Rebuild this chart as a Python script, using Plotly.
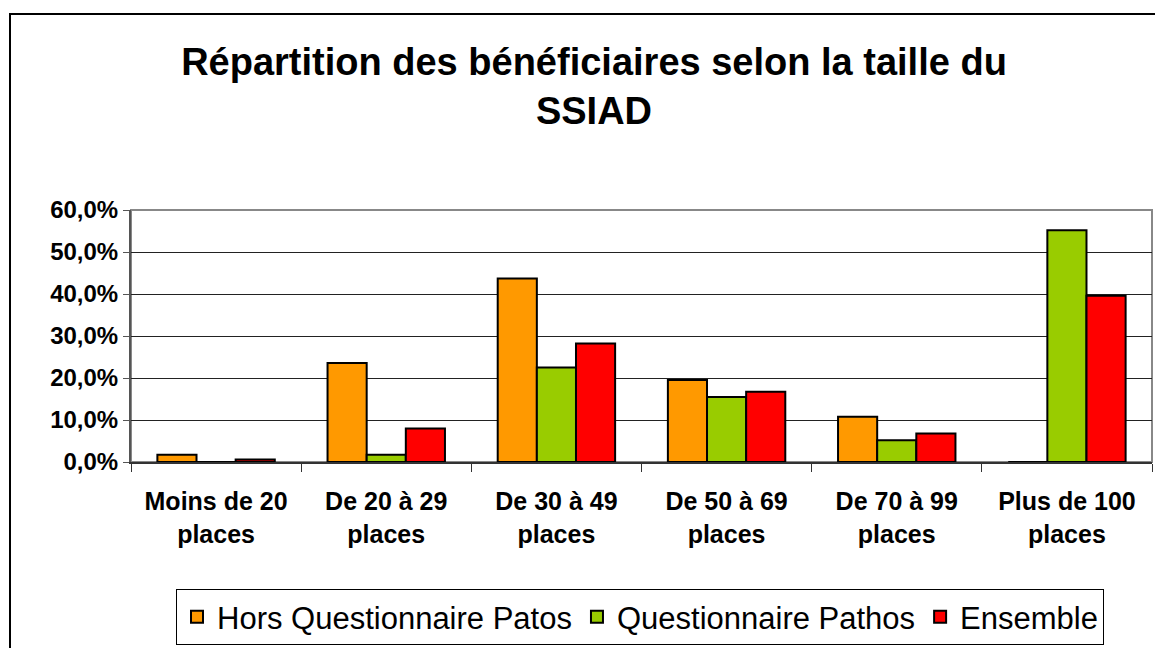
import plotly.graph_objects as go

categories = ["Moins de 20<br>places", "De 20 à 29<br>places", "De 30 à 49<br>places",
              "De 50 à 69<br>places", "De 70 à 99<br>places", "Plus de 100<br>places"]
hors_patos = [1.7, 23.6, 43.7, 19.5, 10.8, 0.0]
pathos = [0.0, 1.7, 22.5, 15.5, 5.2, 55.2]
ensemble = [0.6, 8.0, 28.2, 16.7, 6.8, 39.6]

series = [("Hors Questionnaire Patos", hors_patos, "#FF9900"),
          ("Questionnaire Pathos", pathos, "#99CC00"),
          ("Ensemble", ensemble, "#FF0000")]

fig = go.Figure()
for name, vals, col in series:
    fig.add_trace(go.Bar(x=categories, y=vals, name=name,
                         marker=dict(color=col, line=dict(color="black", width=2))))

# page body has an 8px margin, so work in screen pixels minus that
OFF = 8
W, H = 1163 - OFF, 648 - OFF
L, R, T, B = 131 - OFF, 11, 210 - OFF, 186
pw, ph = W - L - R, H - T - B

def px_x(p):
    return (p - OFF - L) / pw

def px_y(p):
    return (H - B - (p - OFF)) / ph

fig.update_layout(
    width=W, height=H,
    margin=dict(l=L, r=R, t=T, b=B, autoexpand=False),
    paper_bgcolor="white", plot_bgcolor="white",
    font=dict(family="Liberation Sans, Arial", color="black"),
    separators=",.",
    barmode="group", bargap=0.31, bargroupgap=0,
    title=dict(text="<b>Répartition des bénéficiaires selon la taille du<br>SSIAD</b>",
               x=px_x(594), xref="paper", xanchor="center",
               y=1 - (75 - OFF) / H, yanchor="middle",
               font=dict(size=38, color="black")),
    legend=dict(orientation="h", x=px_x(640), xanchor="center", y=px_y(645), yanchor="bottom",
                bordercolor="black", borderwidth=1, font=dict(size=31),
                itemwidth=30, traceorder="normal"),
    showlegend=True,
)
fig.update_yaxes(range=[0, 60], dtick=10, tickformat=".1f",
                 tickprefix="<b>", ticksuffix="%</b>",
                 showgrid=True, gridcolor="#222", gridwidth=1,
                 showline=True, linecolor="#555", linewidth=2,
                 ticks="outside", ticklen=6, tickcolor="#555",
                 tickfont=dict(size=24, color="black"),
                 zeroline=False)
fig.update_xaxes(showline=True, linecolor="#333", linewidth=2,
                 ticks="outside", tickson="boundaries", ticklen=8, tickcolor="#333",
                 ticklabelstandoff=16,
                 tickfont=dict(size=25, color="black"), tickprefix="<b>", ticksuffix="</b>")

# gray plot-area frame on top/right
fig.add_shape(type="rect", xref="paper", yref="paper", x0=0, x1=1, y0=0, y1=1,
              line=dict(color="#888", width=2), layer="below")
# outer chart border
fig.add_shape(type="rect", xref="paper", yref="paper",
              x0=px_x(10), x1=px_x(1185), y0=px_y(680), y1=px_y(14),
              line=dict(color="black", width=2))

fig.write_html("out.html")
